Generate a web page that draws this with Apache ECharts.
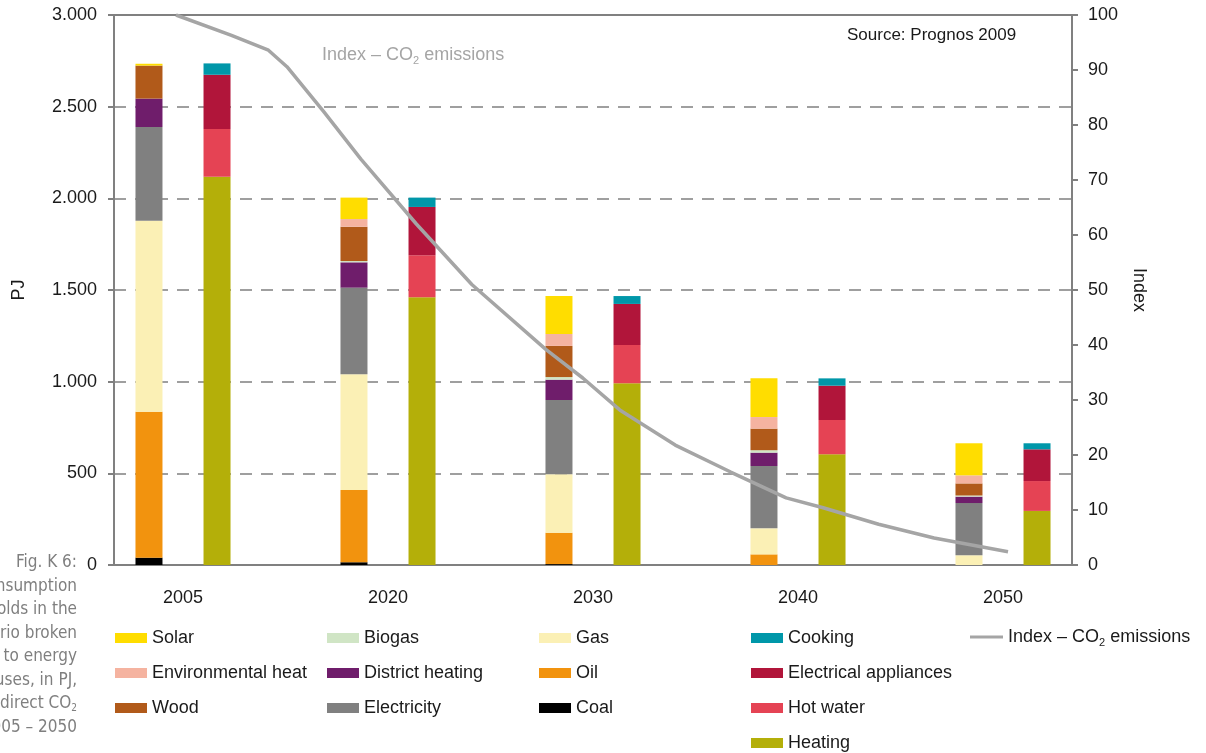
<!DOCTYPE html>
<html>
<head>
<meta charset="utf-8">
<script src="https://cdn.jsdelivr.net/npm/echarts@6/dist/echarts.min.js"></script>
<style>
  html, body { margin: 0; padding: 0; background: #fff; }
  #main { width: 1206px; height: 753px; }
</style>
</head>
<body>
<div id="main"></div>
<script>
// categories
var years = ['2005', '2020', '2030', '2040', '2050']

// energy sources, PJ
var coal = [40, 15, 5, 0, 0]
var oil = [796, 394, 171, 58, 0]
var gas = [1042, 631, 319, 142, 53]
var electricity = [511, 473, 405, 340, 285]
var districtHeating = [155, 138, 111, 73, 35]
var biogas = [0, 7, 14, 13, 6]
var wood = [180, 187, 170, 118, 66]
var envHeat = [0, 42, 65, 63, 44]
var solar = [10, 117, 207, 211, 175]

// energy uses, PJ
var heating = [2118, 1460, 991, 604, 295]
var hotWater = [260, 229, 209, 187, 163]
var appliances = [296, 264, 224, 187, 173]
var cooking = [62, 51, 43, 40, 33]

// index of direct CO2 emissions (2005 = 100)
var indexYears = [2005, 2008, 2010, 2011, 2013, 2015, 2018, 2021, 2025, 2027, 2029, 2032, 2035, 2038, 2040, 2043, 2046, 2050]
var indexValues = [100, 96.3, 93.6, 90.6, 82.4, 73.8, 62.0, 51.0, 39.2, 34.0, 28.2, 21.8, 16.9, 12.2, 10.4, 7.4, 4.9, 2.4]

var font = "'Liberation Sans', Arial, Helvetica, sans-serif"
var narrow = "'Liberation Sans Narrow', 'DejaVu Sans Condensed', 'Liberation Sans', sans-serif"
var lineName = 'Index – CO2 emissions'

function pj(v) {
  if (v < 1000) return String(v)
  var r = v % 1000
  return Math.floor(v / 1000) + '.' + ('00' + r).slice(-3)
}

function bar(name, data, color, stack) {
  return {
    name: name,
    type: 'bar',
    stack: stack,
    xAxisIndex: 2,
    yAxisIndex: 2,
    barWidth: 27,
    barGap: '152%',
    itemStyle: { color: color },
    data: data
  }
}

function legendCol(left, names) {
  return {
    orient: 'vertical',
    left: left,
    top: 628,
    padding: 0,
    itemGap: 15,
    itemWidth: 32,
    itemHeight: 10,
    icon: 'rect',
    selectedMode: false,
    textStyle: { fontFamily: font, fontSize: 18, color: '#1a1a1a', lineHeight: 20 },
    data: names
  }
}

var myChart = echarts.init(document.getElementById('main'))
myChart.setOption({
  animation: false,
  backgroundColor: '#fff',
  grid: [
    { left: 114, right: 134, top: 15, bottom: 188 },
    { left: 80.5, width: 1025, top: 15, bottom: 188 }
  ],
  legend: [
    legendCol(115, ['Solar', 'Environmental heat', 'Wood']),
    legendCol(327, ['Biogas', 'District heating', 'Electricity']),
    legendCol(539, ['Gas', 'Oil', 'Coal']),
    legendCol(751, ['Cooking', 'Electrical appliances', 'Hot water', 'Heating']),
    {
      left: 970,
      top: 628,
      padding: 0,
      itemWidth: 33,
      itemHeight: 3,
      icon: 'rect',
      selectedMode: false,
      formatter: function (name) {
        return '{n|Index – CO}{s|2}{n| emissions}'
      },
      textStyle: {
        fontFamily: font, fontSize: 18, color: '#1a1a1a',
        rich: {
          n: { fontFamily: font, fontSize: 18, color: '#1a1a1a' },
          s: { fontFamily: font, fontSize: 11, color: '#1a1a1a', padding: [12, 0, 0, 0] }
        }
      },
      data: [lineName]
    }
  ],
  xAxis: [
    {
      type: 'value', gridIndex: 0, position: 'bottom',
      min: 2001.647, max: 2053.46,
      axisLine: { show: true, onZero: false, lineStyle: { color: '#808080', width: 2 } },
      axisTick: { show: false }, axisLabel: { show: false }, splitLine: { show: false }
    },
    {
      type: 'value', gridIndex: 0, position: 'top',
      min: 2001.647, max: 2053.46,
      axisLine: { show: true, onZero: false, lineStyle: { color: '#808080', width: 2 } },
      axisTick: { show: false }, axisLabel: { show: false }, splitLine: { show: false }
    },
    {
      type: 'category', gridIndex: 1, data: years,
      axisLine: { show: false }, axisTick: { show: false },
      axisLabel: { fontFamily: font, fontSize: 18, color: '#1a1a1a', margin: 24 }
    }
  ],
  yAxis: [
    {
      type: 'value', gridIndex: 0, position: 'left',
      min: 0, max: 3000, interval: 500,
      name: 'PJ', nameLocation: 'middle', nameRotate: 90, nameGap: 86,
      nameTextStyle: { fontFamily: font, fontSize: 18, color: '#1a1a1a' },
      axisLine: { show: true, lineStyle: { color: '#808080', width: 2 } },
      axisTick: { show: true, length: 6, lineStyle: { color: '#808080', width: 2 } },
      axisLabel: {
        fontFamily: font, fontSize: 18, color: '#1a1a1a', margin: 17,
        padding: [4, 0, 0, 0],
        formatter: function (v) { return pj(v) }
      },
      splitLine: { show: true, lineStyle: { color: '#808080', width: 1.5, type: [12, 9] } }
    },
    {
      type: 'value', gridIndex: 0, position: 'right',
      min: 0, max: 100, interval: 10,
      name: 'Index', nameLocation: 'middle', nameRotate: -90, nameGap: 58,
      nameTextStyle: { fontFamily: font, fontSize: 18, color: '#1a1a1a' },
      axisLine: { show: true, lineStyle: { color: '#808080', width: 2 } },
      axisTick: { show: true, length: 6, lineStyle: { color: '#808080', width: 2 } },
      axisLabel: { fontFamily: font, fontSize: 18, color: '#1a1a1a', margin: 16, padding: [4, 0, 0, 0] },
      splitLine: { show: false }
    },
    { type: 'value', gridIndex: 1, min: 0, max: 3000, show: false }
  ],
  graphic: [
    {
      type: 'text', left: 322, top: 46,
      style: {
        text: '{n|Index – CO}{s|2}{n| emissions}',
        rich: {
          n: { fontFamily: font, fontSize: 18, fill: '#a5a5a5' },
          s: { fontFamily: font, fontSize: 11, fill: '#a5a5a5', padding: [12, 0, 0, 0] }
        }
      }
    },
    {
      type: 'text', left: 847, top: 27,
      style: { text: 'Source: Prognos 2009', fontFamily: font, fontSize: 17, fill: '#1a1a1a' }
    },
    {
      type: 'text', x: 77, y: 551,
      style: {
        text: [
          '{t|Fig. K 6:}',
          '{t|Final energy consumption}',
          '{t|of private households in the}',
          '{t|target scenario broken}',
          '{t|down according to energy}',
          '{t|sources and uses, in PJ,}',
          '{t|and index of direct CO}{s|2}',
          '{t|emissions, 2005 – 2050}'
        ].join('\n'),
        align: 'right',
        rich: {
          t: { fontFamily: narrow, fontSize: 17, fill: '#7f7f7f', lineHeight: 23.5, align: 'right' },
          s: { fontFamily: narrow, fontSize: 10, fill: '#7f7f7f', lineHeight: 23.5, padding: [10, 0, 0, 0], align: 'right' }
        }
      }
    }
  ],
  series: [
    bar('Coal', coal, '#000000', 'source'),
    bar('Oil', oil, '#f2930e', 'source'),
    bar('Gas', gas, '#fbf0b5', 'source'),
    bar('Electricity', electricity, '#808080', 'source'),
    bar('District heating', districtHeating, '#6f1d6b', 'source'),
    bar('Biogas', biogas, '#d0e5c5', 'source'),
    bar('Wood', wood, '#b15a1a', 'source'),
    bar('Environmental heat', envHeat, '#f5b3a0', 'source'),
    bar('Solar', solar, '#ffdd00', 'source'),
    bar('Heating', heating, '#b4af09', 'use'),
    bar('Hot water', hotWater, '#e54354', 'use'),
    bar('Electrical appliances', appliances, '#b1153a', 'use'),
    bar('Cooking', cooking, '#0097a9', 'use'),
    {
      name: lineName,
      type: 'line',
      xAxisIndex: 0,
      yAxisIndex: 1,
      symbol: 'none',
      z: 5,
      lineStyle: { color: '#a5a5a5', width: 3.5 },
      itemStyle: { color: '#a5a5a5' },
      data: indexYears.map(function (y, i) { return [y, indexValues[i]] })
    }
  ]
})
</script>
</body>
</html>
